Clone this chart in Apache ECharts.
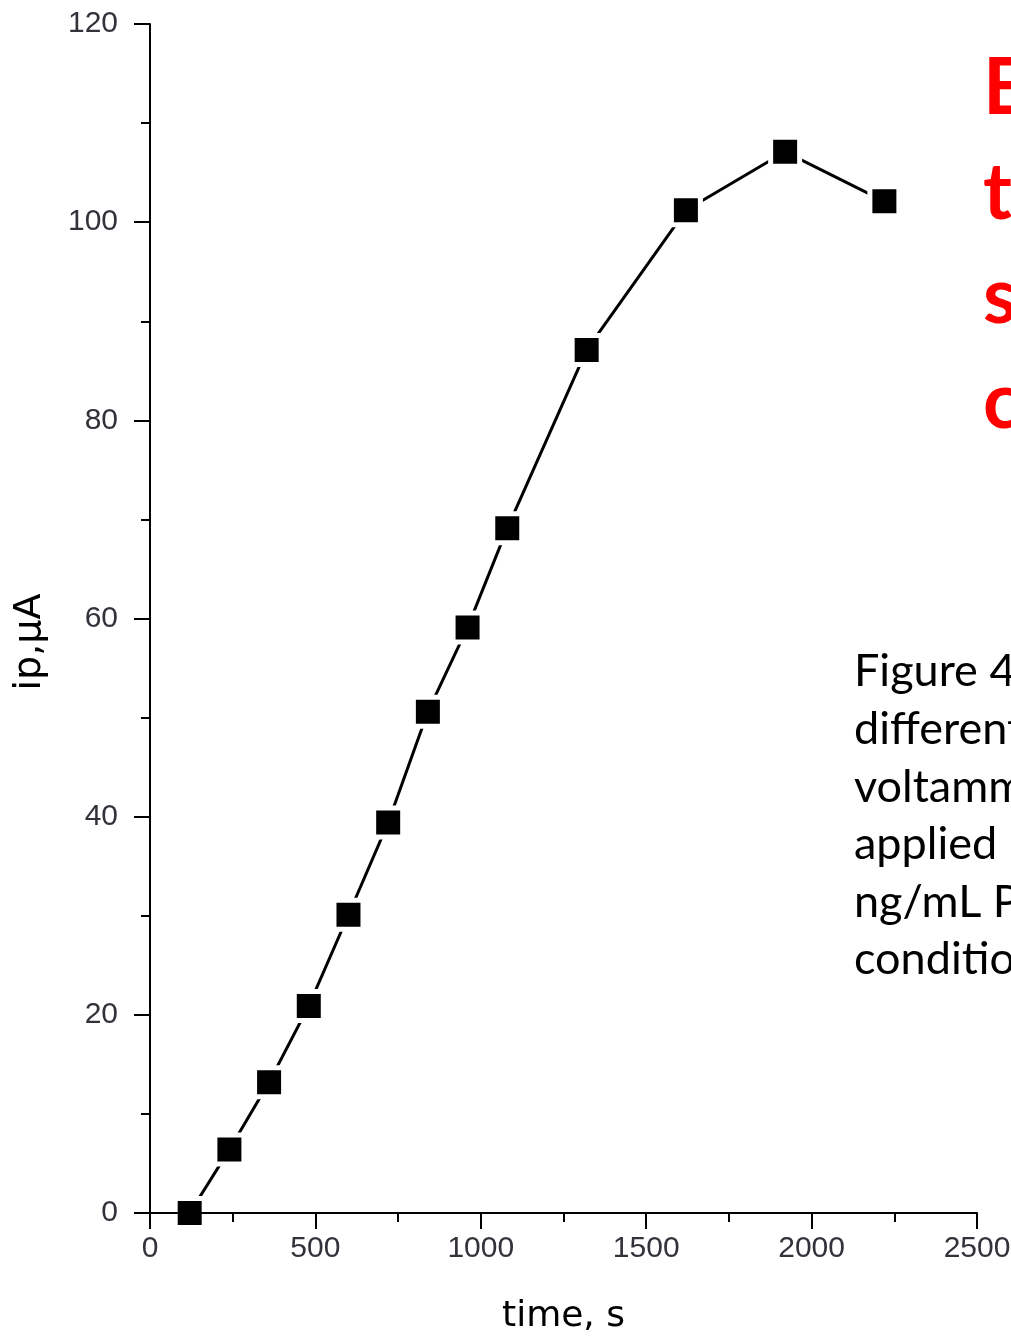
<!DOCTYPE html>
<html>
<head>
<meta charset="utf-8">
<title>ip vs time</title>
<script src="https://cdn.jsdelivr.net/npm/echarts@6/dist/echarts.min.js"></script>
<style>
  html, body { margin: 0; padding: 0; background: #fff; overflow: hidden; }
  #chart { width: 1011px; height: 1336px; }
</style>
</head>
<body>
<div id="chart"></div>
<script>
// Deposition time (s) and peak current (µA)
const timeSeconds = [120, 240, 360, 480, 600, 720, 840, 960, 1080, 1320, 1620, 1920, 2220];
const peakCurrent = [0, 6.4, 13.2, 20.9, 30.1, 39.4, 50.6, 59.1, 69.1, 87.1, 101.2, 107.1, 102.1];

// Axis settings
const xTicks = { min: 0, max: 2500, interval: 500 };
const yTicks = { min: 0, max: 120, interval: 20 };
const xTitle = 'time, s';
const yTitle = 'ip,\u03bcA';

// Slide text beside the plot
const headingLetters = ['E', 't', 's', 'c'];
const captionLines = ['Figure 4', 'different', 'voltammograms', 'applied', 'ng/mL P', 'conditions'];

const chart = echarts.init(document.getElementById('chart'), null, { renderer: 'canvas' });

const tickFont = "'Liberation Sans', Arial, sans-serif";
const titleFont = "'DejaVu Sans', 'Liberation Sans', sans-serif";

function axisCommon(t) {
  return {
    type: 'value',
    min: t.min,
    max: t.max,
    interval: t.interval,
    z: 5,
    axisLine: { show: true, lineStyle: { color: '#000', width: 2 } },
    axisTick: { show: true, inside: false, length: 16, lineStyle: { color: '#000', width: 2 } },
    minorTick: { show: true, splitNumber: 2, length: 9, lineStyle: { color: '#000', width: 2 } },
    splitLine: { show: false },
    minorSplitLine: { show: false },
    axisLabel: {
      color: '#35313a',
      fontSize: 30,
      fontFamily: tickFont,
      formatter: v => String(v)
    }
  };
}

const xAxis = axisCommon(xTicks);
xAxis.axisLabel.margin = 21;
xAxis.name = xTitle;
xAxis.nameLocation = 'middle';
xAxis.nameGap = 86;
xAxis.nameTextStyle = { color: '#000', fontSize: 36, fontFamily: titleFont };

const yAxis = axisCommon(yTicks);
yAxis.axisLabel.margin = 32;

const graphics = [];
// vertical axis title
graphics.push({
  type: 'text',
  x: 30,
  y: 642,
  rotation: Math.PI / 2,
  style: {
    text: yTitle,
    fill: '#000',
    font: "38px 'DejaVu Sans', 'Liberation Sans', sans-serif",
    align: 'center',
    verticalAlign: 'middle'
  }
});
headingLetters.forEach((ch, i) => {
  graphics.push({
    type: 'text',
    left: 983,
    top: 50 + i * 104.5,
    style: {
      text: ch,
      fill: '#ff0000',
      font: "bold 78px Lato, 'Open Sans', sans-serif"
    }
  });
});
graphics.push({
  type: 'text',
  left: 854,
  top: 643,
  style: {
    text: captionLines.join('\n'),
    fill: '#000',
    font: "45px Lato, 'Open Sans', sans-serif",
    lineHeight: 57.6
  }
});

chart.setOption({
  animation: false,
  backgroundColor: '#fff',
  grid: { left: 150, right: 34, top: 24, bottom: 123, containLabel: false, outerBoundsMode: 'none' },
  xAxis: xAxis,
  yAxis: yAxis,
  graphic: graphics,
  series: [{
    type: 'line',
    data: timeSeconds.map((t, i) => [t, peakCurrent[i]]),
    symbol: 'rect',
    symbolSize: 29,
    clip: false,
    lineStyle: { color: '#000', width: 3 },
    itemStyle: { color: '#000', borderColor: '#fff', borderWidth: 5 },
    z: 2
  }]
});
</script>
</body>
</html>
